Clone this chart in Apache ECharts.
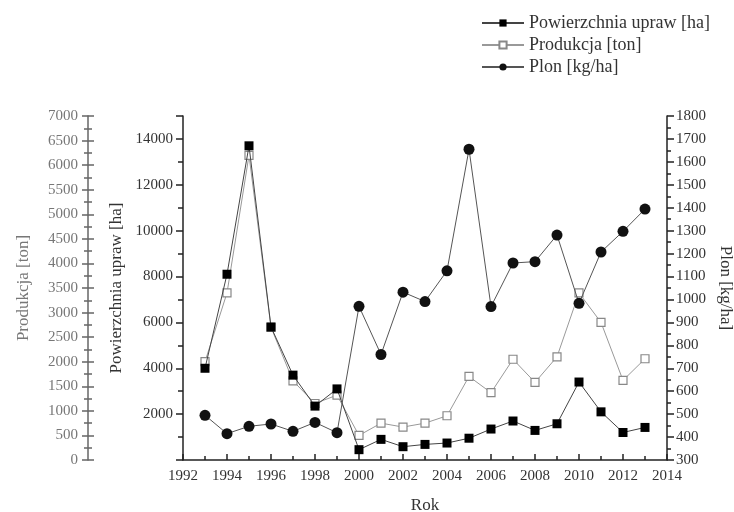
<!DOCTYPE html>
<html>
<head>
<meta charset="utf-8">
<script src="https://cdn.jsdelivr.net/npm/echarts@6/dist/echarts.min.js"></script>
<style>
  html, body { margin: 0; padding: 0; background: #fff; }
  #chart { width: 734px; height: 512px; }
</style>
</head>
<body>
<div id="chart"></div>
<script>
// lata
const years = [1993, 1994, 1995, 1996, 1997, 1998, 1999, 2000, 2001, 2002, 2003,
  2004, 2005, 2006, 2007, 2008, 2009, 2010, 2011, 2012, 2013];
// powierzchnia upraw [ha]
const area = [4000, 8100, 13700, 5800, 3700, 2350, 3100, 450, 900, 580, 680,
  740, 950, 1350, 1700, 1290, 1580, 3400, 2100, 1200, 1420];
// produkcja [ton]
const production = [2000, 3400, 6200, 2700, 1610, 1150, 1320, 500, 750, 670, 750,
  900, 1700, 1370, 2050, 1580, 2100, 3400, 2800, 1620, 2060];
// plon [kg/ha]
const yieldVals = [495, 415, 447, 457, 425, 464, 419, 970, 760, 1032, 991,
  1125, 1655, 969, 1159, 1165, 1281, 983, 1207, 1297, 1394];

const seriesNames = ['Powierzchnia upraw [ha]', 'Produkcja [ton]', 'Plon [kg/ha]'];

const font = 'Liberation Serif';
const txt = '#333';

function pairs(vals) {
  return years.map((y, i) => [y, vals[i]]);
}

const chart = echarts.init(document.getElementById('chart'));

chart.setOption({
  animation: false,
  textStyle: { fontFamily: font },
  legend: {
    orient: 'vertical',
    left: 476,
    top: 9,
    itemWidth: 42,
    itemHeight: 9,
    itemGap: 4,
    textStyle: { fontFamily: font, fontSize: 18, color: txt },
    data: seriesNames
  },
  grid: { left: 183, right: 67, top: 116, bottom: 52, outerBoundsMode: 'none' },
  xAxis: {
    type: 'value',
    min: 1992,
    max: 2014,
    interval: 2,
    name: 'Rok',
    nameLocation: 'middle',
    nameGap: 37,
    nameTextStyle: { fontFamily: font, fontSize: 17, color: txt },
    axisLine: { lineStyle: { color: '#222', width: 1.5 } },
    axisTick: { inside: true, length: 6, lineStyle: { color: '#222', width: 1.5 } },
    minorTick: { show: true, splitNumber: 2, length: 4, lineStyle: { color: '#222', width: 1.5 } },
    axisLabel: { fontFamily: font, fontSize: 15, color: txt, margin: 9, formatter: v => String(v) },
    splitLine: { show: false }
  },
  yAxis: [
    {
      type: 'value',
      position: 'left',
      min: 0,
      max: 15000,
      interval: 2000,
      name: 'Powierzchnia upraw [ha]',
      nameLocation: 'middle',
      nameGap: 52,
      nameTextStyle: { fontFamily: font, fontSize: 17, color: txt },
      axisLine: { show: true, lineStyle: { color: '#222', width: 1.5 } },
      axisTick: { show: true, length: 7, lineStyle: { color: '#222', width: 1.5 } },
      minorTick: { show: true, splitNumber: 2, length: 5, lineStyle: { color: '#222', width: 1.5 } },
      axisLabel: {
        fontFamily: font, fontSize: 15, color: txt, margin: 10,
        formatter: v => (v === 0 || v === 15000) ? '' : String(v)
      },
      splitLine: { show: false }
    },
    {
      type: 'value',
      position: 'left',
      offset: 95,
      min: 0,
      max: 7000,
      interval: 500,
      name: 'Produkcja [ton]',
      nameLocation: 'middle',
      nameGap: 56,
      nameTextStyle: { fontFamily: font, fontSize: 17, color: '#777' },
      axisLine: { show: true, lineStyle: { color: '#666', width: 1.5 } },
      axisTick: { show: true, length: 6, lineStyle: { color: '#666', width: 1.5 } },
      minorTick: { show: true, splitNumber: 2, length: 4, lineStyle: { color: '#666', width: 1.5 } },
      axisLabel: { fontFamily: font, fontSize: 15, color: '#777', margin: 10, formatter: v => String(v) },
      splitLine: { show: false }
    },
    {
      type: 'value',
      position: 'right',
      min: 300,
      max: 1800,
      interval: 100,
      name: 'Plon [kg/ha]',
      nameLocation: 'middle',
      nameGap: 47,
      nameRotate: -90,
      nameTextStyle: { fontFamily: font, fontSize: 17, color: txt },
      axisLine: { show: true, lineStyle: { color: '#222', width: 1.5 } },
      axisTick: { show: true, length: 7, lineStyle: { color: '#222', width: 1.5 } },
      minorTick: { show: true, splitNumber: 2, length: 4, lineStyle: { color: '#222', width: 1.5 } },
      axisLabel: { fontFamily: font, fontSize: 15, color: txt, margin: 9, formatter: v => String(v) },
      splitLine: { show: false }
    },
    {
      // druga strona kresek osi produkcji
      type: 'value',
      position: 'left',
      offset: 95,
      min: 0,
      max: 7000,
      interval: 500,
      axisLine: { show: false },
      axisTick: { show: true, inside: true, length: 6, lineStyle: { color: '#666', width: 1.5 } },
      minorTick: { show: true, splitNumber: 2, length: 4, lineStyle: { color: '#666', width: 1.5 } },
      axisLabel: { show: false },
      splitLine: { show: false }
    }
  ],
  series: [
    {
      name: seriesNames[0],
      type: 'line',
      yAxisIndex: 0,
      data: pairs(area),
      symbol: 'rect',
      symbolSize: 9,
      lineStyle: { color: '#444', width: 1 },
      itemStyle: { color: '#000' },
      z: 3
    },
    {
      name: seriesNames[1],
      type: 'line',
      yAxisIndex: 1,
      data: pairs(production),
      symbol: 'rect',
      symbolSize: 8,
      lineStyle: { color: '#999', width: 1 },
      itemStyle: { color: '#fff', borderColor: '#888', borderWidth: 1.2 },
      z: 2
    },
    {
      name: seriesNames[2],
      type: 'line',
      yAxisIndex: 2,
      data: pairs(yieldVals),
      symbol: 'circle',
      symbolSize: 11,
      lineStyle: { color: '#555', width: 1 },
      itemStyle: { color: '#111' },
      z: 4
    }
  ]
});
</script>
</body>
</html>
